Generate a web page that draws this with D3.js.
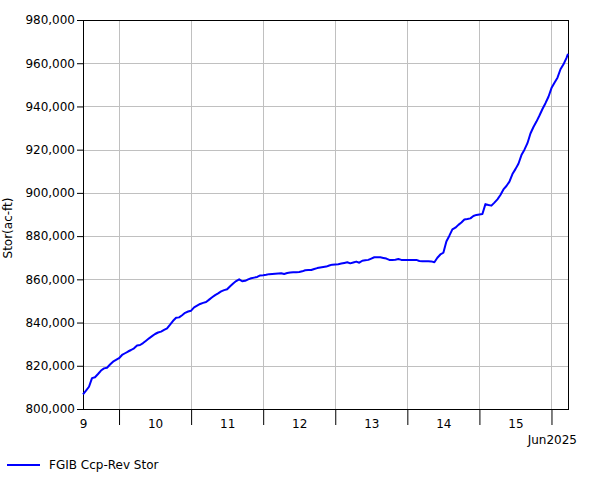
<!DOCTYPE html>
<html>
<head>
<meta charset="utf-8">
<script src="https://cdn.jsdelivr.net/npm/d3@7"></script>
<style>
  html, body { margin: 0; padding: 0; background: #fff; }
  svg { display: block; font-family: "DejaVu Sans", Verdana, sans-serif; }
</style>
</head>
<body>
<svg id="chart" width="601" height="480"></svg>
<script>
// ---- data ----
const seriesName = "FGIB Ccp-Rev Stor";
const yTickValues = [800000, 820000, 840000, 860000, 880000, 900000, 920000, 940000, 960000, 980000];
const dayLabels = ["9", "10", "11", "12", "13", "14", "15"];
const monthLabel = "Jun2025";
const yTitle = "Stor(ac-ft)";
const times = [
  "2025-06-09T12:00","2025-06-09T13:00","2025-06-09T14:00","2025-06-09T15:00","2025-06-09T16:00","2025-06-09T17:00",
  "2025-06-09T18:00","2025-06-09T19:00","2025-06-09T20:00","2025-06-09T21:00","2025-06-09T22:00","2025-06-09T23:00",
  "2025-06-10T00:00","2025-06-10T01:00","2025-06-10T02:00","2025-06-10T03:00","2025-06-10T04:00","2025-06-10T05:00",
  "2025-06-10T06:00","2025-06-10T07:00","2025-06-10T08:00","2025-06-10T09:00","2025-06-10T10:00","2025-06-10T11:00",
  "2025-06-10T12:00","2025-06-10T13:00","2025-06-10T14:00","2025-06-10T15:00","2025-06-10T16:00","2025-06-10T17:00",
  "2025-06-10T18:00","2025-06-10T19:00","2025-06-10T20:00","2025-06-10T21:00","2025-06-10T22:00","2025-06-10T23:00",
  "2025-06-11T00:00","2025-06-11T01:00","2025-06-11T02:00","2025-06-11T03:00","2025-06-11T04:00","2025-06-11T05:00",
  "2025-06-11T06:00","2025-06-11T07:00","2025-06-11T08:00","2025-06-11T09:00","2025-06-11T10:00","2025-06-11T11:00",
  "2025-06-11T12:00","2025-06-11T13:00","2025-06-11T14:00","2025-06-11T15:00","2025-06-11T16:00","2025-06-11T17:00",
  "2025-06-11T18:00","2025-06-11T19:00","2025-06-11T20:00","2025-06-11T21:00","2025-06-11T22:00","2025-06-11T23:00",
  "2025-06-12T00:00","2025-06-12T01:00","2025-06-12T02:00","2025-06-12T03:00","2025-06-12T04:00","2025-06-12T05:00",
  "2025-06-12T06:00","2025-06-12T07:00","2025-06-12T08:00","2025-06-12T09:00","2025-06-12T10:00","2025-06-12T11:00",
  "2025-06-12T12:00","2025-06-12T13:00","2025-06-12T14:00","2025-06-12T15:00","2025-06-12T16:00","2025-06-12T17:00",
  "2025-06-12T18:00","2025-06-12T19:00","2025-06-12T20:00","2025-06-12T21:00","2025-06-12T22:00","2025-06-12T23:00",
  "2025-06-13T00:00","2025-06-13T01:00","2025-06-13T02:00","2025-06-13T03:00","2025-06-13T04:00","2025-06-13T05:00",
  "2025-06-13T06:00","2025-06-13T07:00","2025-06-13T08:00","2025-06-13T09:00","2025-06-13T10:00","2025-06-13T11:00",
  "2025-06-13T12:00","2025-06-13T13:00","2025-06-13T14:00","2025-06-13T15:00","2025-06-13T16:00","2025-06-13T17:00",
  "2025-06-13T18:00","2025-06-13T19:00","2025-06-13T20:00","2025-06-13T21:00","2025-06-13T22:00","2025-06-13T23:00",
  "2025-06-14T00:00","2025-06-14T01:00","2025-06-14T02:00","2025-06-14T03:00","2025-06-14T04:00","2025-06-14T05:00",
  "2025-06-14T06:00","2025-06-14T07:00","2025-06-14T08:00","2025-06-14T09:00","2025-06-14T10:00","2025-06-14T11:00",
  "2025-06-14T12:00","2025-06-14T13:00","2025-06-14T14:00","2025-06-14T15:00","2025-06-14T16:00","2025-06-14T17:00",
  "2025-06-14T18:00","2025-06-14T19:00","2025-06-14T20:00","2025-06-14T21:00","2025-06-14T22:00","2025-06-14T23:00",
  "2025-06-15T00:00","2025-06-15T01:00","2025-06-15T02:00","2025-06-15T03:00","2025-06-15T04:00","2025-06-15T05:00",
  "2025-06-15T06:00","2025-06-15T07:00","2025-06-15T08:00","2025-06-15T09:00","2025-06-15T10:00","2025-06-15T11:00",
  "2025-06-15T12:00","2025-06-15T13:00","2025-06-15T14:00","2025-06-15T15:00","2025-06-15T16:00","2025-06-15T17:00",
  "2025-06-15T18:00","2025-06-15T19:00","2025-06-15T20:00","2025-06-15T21:00","2025-06-15T22:00","2025-06-15T23:00",
  "2025-06-16T00:00","2025-06-16T01:00","2025-06-16T02:00","2025-06-16T03:00","2025-06-16T04:00","2025-06-16T05:00",
  "2025-06-16T05:30"
];
const storage = [
  806800, 808500, 810300, 814300, 814700, 816200,
  817800, 818800, 819100, 820600, 821900, 822700,
  823500, 825000, 825800, 826600, 827300, 828100,
  829400, 829600, 830500, 831600, 832700, 833700,
  834700, 835400, 835800, 836600, 837300, 839000,
  840800, 842200, 842400, 843400, 844500, 845100,
  845500, 847000, 847800, 848600, 849100, 849500,
  850600, 851700, 852700, 853500, 854400, 855000,
  855400, 856800, 858100, 859200, 860000, 859100,
  859300, 860000, 860500, 860800, 861100, 861800,
  861900, 862100, 862400, 862500, 862600, 862700,
  862800, 862500, 862900, 863200, 863300, 863300,
  863400, 863700, 864200, 864300, 864300, 864800,
  865200, 865500, 865700, 865900, 866400, 866800,
  866900, 867000, 867300, 867600, 867900, 867400,
  867800, 868200, 867700, 868600, 868800, 869000,
  869600, 870200, 870200, 870200, 869900, 869600,
  869000, 869000, 869100, 869400, 869000, 869000,
  869000, 869000, 869000, 869000, 868500, 868400,
  868400, 868400, 868300, 867900, 870000, 871500,
  872300, 877500, 880200, 883100, 883900, 885200,
  886300, 887700, 887900, 888200, 889300, 889800,
  890000, 890200, 894800, 894400, 894100, 895500,
  897000, 899000, 901600, 903200, 905200, 908700,
  911000, 913500, 917500, 920000, 923000, 927500,
  930500, 933000, 935800, 938800, 941500, 944500,
  948500, 951000, 953300, 957200, 959500, 962500,
  964300
];
const xStart = "2025-06-09T12:00";
const xEnd = "2025-06-16T05:30";

// ---- chart ----
const W = 601, H = 480;
const margin = { top: 20, right: 33, bottom: 71, left: 83 };
const iw = W - margin.left - margin.right;
const ih = H - margin.top - margin.bottom;
const parse = d3.timeParse("%Y-%m-%dT%H:%M");
const data = times.map((t, i) => ({ t: parse(t), v: storage[i] }));

const svg = d3.select("#chart");
const g = svg.append("g").attr("transform", `translate(${margin.left},${margin.top})`);

const x = d3.scaleTime().domain([parse(xStart), parse(xEnd)]).range([0, iw]);
const y = d3.scaleLinear().domain([800000, 980000]).range([ih, 0]);

const midnights = d3.timeDay.range(d3.timeDay.ceil(x.domain()[0]), x.domain()[1]);
const noons = dayLabels.map((d, i) => d3.timeHour.offset(d3.timeDay.floor(x.domain()[0]), 12 + 24 * i));

// grid
g.append("g").selectAll("line.h").data(yTickValues).join("line")
  .attr("x1", 0).attr("x2", iw)
  .attr("y1", d => Math.round(y(d)) + 0.5).attr("y2", d => Math.round(y(d)) + 0.5)
  .attr("stroke", "#c0c0c0").attr("stroke-width", 1);
g.append("g").selectAll("line.v").data(midnights).join("line")
  .attr("x1", d => Math.round(x(d)) + 0.5).attr("x2", d => Math.round(x(d)) + 0.5)
  .attr("y1", 0).attr("y2", ih)
  .attr("stroke", "#c0c0c0").attr("stroke-width", 1);

// y axis
const yAxis = g.append("g")
  .call(d3.axisLeft(y).tickValues(yTickValues).tickFormat(d3.format(",")).tickSize(6).tickPadding(2).tickSizeOuter(0));
yAxis.select(".domain").remove();
yAxis.selectAll("text").attr("font-size", 12).attr("fill", "#000").attr("font-family", "DejaVu Sans");
yAxis.selectAll("line").attr("stroke", "#000");

// x axis: tick marks at midnights
const xTicks = g.append("g").attr("transform", `translate(0,${ih})`)
  .call(d3.axisBottom(x).tickValues(midnights).tickSize(16).tickFormat(""));
xTicks.select(".domain").remove();
xTicks.selectAll("line").attr("stroke", "#000");

// x labels at noons
const xLab = g.append("g").attr("transform", `translate(0,${ih})`)
  .call(d3.axisBottom(x).tickValues(noons).tickSize(0).tickPadding(10).tickFormat((d, i) => dayLabels[i]));
xLab.select(".domain").remove();
xLab.selectAll("text").attr("font-size", 12).attr("fill", "#000").attr("font-family", "DejaVu Sans");

svg.append("text").attr("x", 577).attr("y", 444).attr("text-anchor", "end")
  .attr("font-size", 12).attr("fill", "#000").text(monthLabel);

// frame
g.append("rect").attr("x", 0.5).attr("y", 0.5).attr("width", iw).attr("height", ih)
  .attr("fill", "none").attr("stroke", "#000").attr("stroke-width", 1);

// line
g.append("path").datum(data)
  .attr("fill", "none").attr("stroke", "#0000ff").attr("stroke-width", 2)
  .attr("stroke-linejoin", "round")
  .attr("d", d3.line().x(d => x(d.t)).y(d => y(d.v)));

// y title
svg.append("text").attr("transform", "translate(12,228) rotate(-90)")
  .attr("text-anchor", "middle").attr("font-size", 12).attr("fill", "#000").text(yTitle);

// legend
svg.append("line").attr("x1", 7).attr("x2", 40).attr("y1", 465).attr("y2", 465)
  .attr("stroke", "#0000ff").attr("stroke-width", 2);
svg.append("text").attr("x", 49).attr("y", 469).attr("font-size", 12).attr("fill", "#000").text(seriesName);
</script>
</body>
</html>
